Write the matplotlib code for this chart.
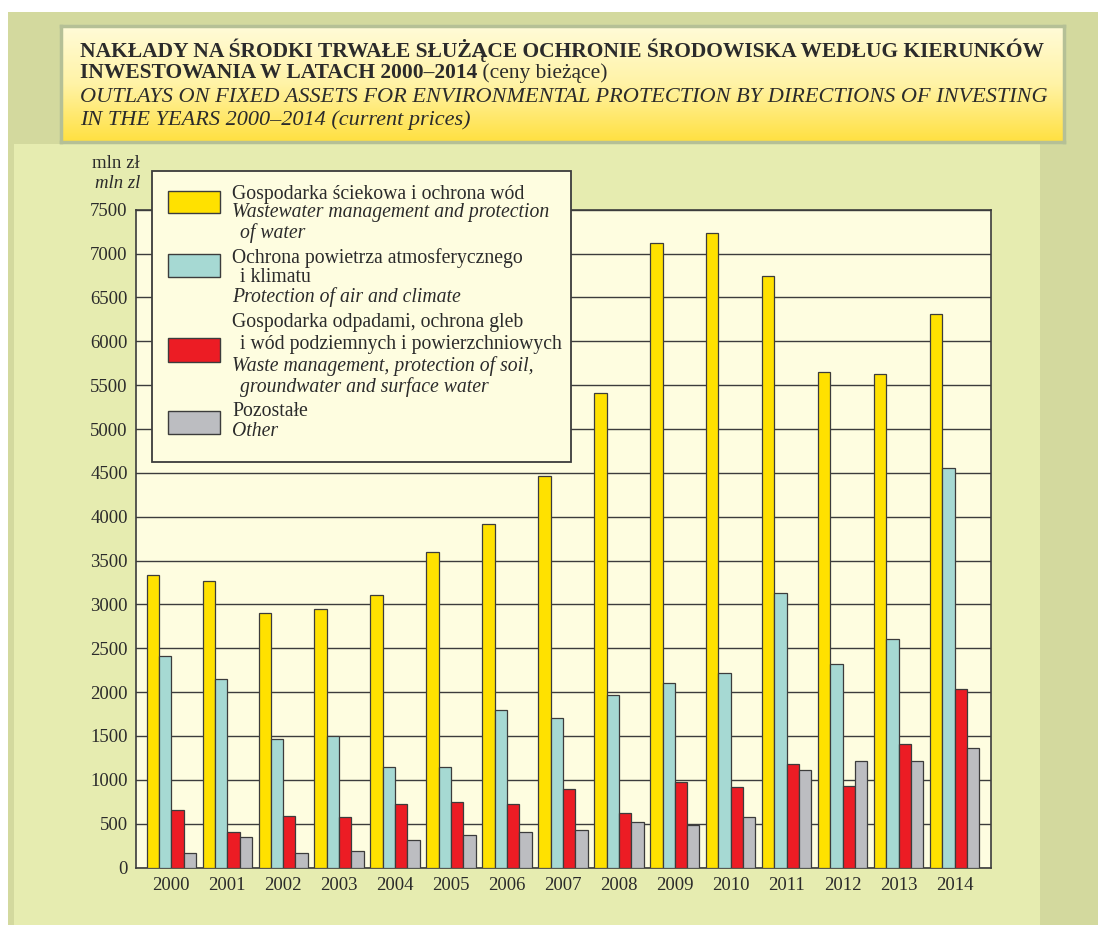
import numpy as np
import matplotlib
matplotlib.use("Agg")
import matplotlib.pyplot as plt
from matplotlib.patches import Rectangle
from matplotlib.colors import LinearSegmentedColormap

W, H = 1098, 925

years = [str(y) for y in range(2000, 2015)]
water = [3330, 3270, 2905, 2945, 3105, 3595, 3915, 4470, 5415, 7120, 7230, 6750, 5650, 5625, 6310]
air = [2415, 2155, 1470, 1495, 1145, 1145, 1800, 1710, 1965, 2105, 2220, 3130, 2315, 2605, 4560]
waste = [655, 410, 590, 575, 725, 750, 725, 890, 620, 970, 920, 1175, 930, 1410, 2040]
other = [165, 345, 165, 190, 315, 370, 410, 425, 520, 480, 580, 1110, 1220, 1220, 1360]

series = [water, air, waste, other]
colors = ["#ffe100", "#a6d9d3", "#ec1c24", "#bcbdc1"]

# legend lines: (text, italic, indented)
legend_lines = [
    [("Gospodarka ściekowa i ochrona wód", False, False),
     ("Wastewater management and protection", True, False),
     ("of water", True, True)],
    [("Ochrona powietrza atmosferycznego", False, False),
     ("i klimatu", False, True),
     ("Protection of air and climate", True, False)],
    [("Gospodarka odpadami, ochrona gleb", False, False),
     ("i wód podziemnych i powierzchniowych", False, True),
     ("Waste management, protection of soil,", True, False),
     ("groundwater and surface water", True, True)],
    [("Pozostałe", False, False),
     ("Other", True, False)],
]

EDGE = "#3c3c3c"
TXT = "#2b2b2b"

plt.rcParams['font.family'] = ['Liberation Serif', 'DejaVu Serif']


def fx(x):
    return x / W


def fy(y):
    return 1 - y / H


fig = plt.figure(figsize=(W / 100, H / 100), dpi=100)
fig.patch.set_facecolor("white")

# page backgrounds
fig.patches.append(Rectangle((fx(8), 0), 1 - fx(8), fy(12), transform=fig.transFigure,
                             facecolor="#d3d99e", edgecolor="none", zorder=-3))
fig.patches.append(Rectangle((fx(14), 0), fx(1040) - fx(14), fy(144), transform=fig.transFigure,
                             facecolor="#e6ecb0", edgecolor="none", zorder=-2))

# title box with gradient
tax = fig.add_axes([fx(61), fy(142), fx(1064) - fx(61), fy(26) - fy(142)])
grad = LinearSegmentedColormap.from_list("g", ["#fffbd8", "#fff3a6", "#ffe040"])
tax.imshow(np.linspace(0, 1, 256).reshape(-1, 1), aspect="auto", cmap=grad,
           extent=[0, 1, 0, 1], origin="upper")
tax.set_xticks([])
tax.set_yticks([])
for s in tax.spines.values():
    s.set_color("#b5c096")
    s.set_linewidth(2.5)

bsize = 15.5
isize = 16
t1 = fig.text(fx(80), fy(50), "NAKŁADY NA ŚRODKI TRWAŁE SŁUŻĄCE OCHRONIE ŚRODOWISKA WEDŁUG KIERUNKÓW",
              fontsize=bsize, fontweight="bold", color=TXT, va="center")
t2 = fig.text(fx(80), fy(73), "INWESTOWANIA W LATACH 2000–2014",
              fontsize=bsize, fontweight="bold", color=TXT, va="center")
tax.annotate(" (ceny bieżące)", xy=(1, 0), xycoords=t2, va="bottom", ha="left",
             fontsize=bsize, color=TXT)
fig.text(fx(80), fy(97), "OUTLAYS ON FIXED ASSETS FOR ENVIRONMENTAL PROTECTION BY DIRECTIONS OF INVESTING",
         fontsize=isize, style="italic", color=TXT, va="center")
fig.text(fx(80), fy(120), "IN THE YEARS 2000–2014 (current prices)",
         fontsize=isize, style="italic", color=TXT, va="center")

# main chart
ax = fig.add_axes([fx(136), fy(867.5), fx(991) - fx(136), fy(209.8) - fy(867.5)])
ax.set_facecolor("#fefde0")
x = np.arange(len(years))
w = 0.22
for k, (vals, col) in enumerate(zip(series, colors)):
    ax.bar(x + (k - 1.5) * w, vals, w, color=col, edgecolor=EDGE, linewidth=0.9, zorder=3)

ax.set_xlim(-0.63, 14.65)
ax.set_ylim(0, 7500)
ax.set_yticks(range(0, 7501, 500))
ax.set_xticks(x)
ax.set_xticklabels(years)
ax.set_axisbelow(True)
ax.yaxis.grid(True, color=EDGE, linewidth=1.0)
ax.tick_params(axis="y", length=0, pad=6, labelsize=13.5, labelcolor=TXT)
ax.tick_params(axis="x", length=0, pad=7, labelsize=13.5, labelcolor=TXT)
for s in ax.spines.values():
    s.set_color(EDGE)
    s.set_linewidth(1.2)

fig.text(fx(140), fy(163), "mln zł", fontsize=13.5, color=TXT, ha="right", va="center")
fig.text(fx(140), fy(184), "mln zl", fontsize=13.5, style="italic", color=TXT, ha="right", va="center")

# legend box
fig.patches.append(Rectangle((fx(152), fy(462)), fx(571) - fx(152), fy(171) - fy(462),
                             transform=fig.transFigure, facecolor="#fefde0",
                             edgecolor=EDGE, linewidth=1.3, zorder=5))
swatch_y = [(191, 213), (254, 277), (338, 362), (411, 434)]
text_y = [[194, 213, 233], [258, 278, 297], [323, 345, 366, 387], [412, 432]]
for col, (y0, y1), lines, ys in zip(colors, swatch_y, legend_lines, text_y):
    fig.patches.append(Rectangle((fx(168), fy(y1)), fx(220) - fx(168), fy(y0) - fy(y1),
                                 transform=fig.transFigure, facecolor=col,
                                 edgecolor=EDGE, linewidth=1.0, zorder=6))
    for (txt, ital, ind), yy in zip(lines, ys):
        fig.text(fx(240 if ind else 232), fy(yy), txt, fontsize=14.2,
                 style="italic" if ital else "normal", color=TXT, va="center", zorder=7)

fig.savefig("out.png", dpi=100)
